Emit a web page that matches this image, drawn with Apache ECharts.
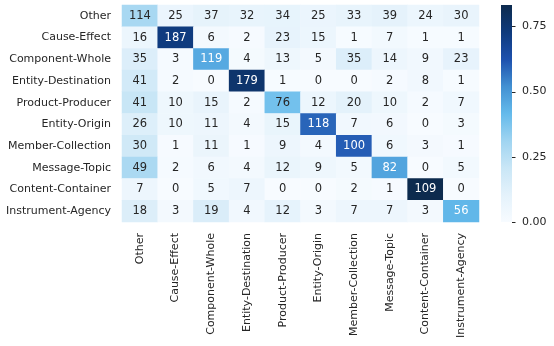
<!DOCTYPE html>
<html>
<head>
<meta charset="utf-8">
<script src="https://cdn.jsdelivr.net/npm/echarts@6/dist/echarts.min.js"></script>
<style>
  html, body { margin: 0; padding: 0; background: #ffffff; }
  #chart { width: 554px; height: 346px; }
</style>
</head>
<body>
<div id="chart"></div>
<script>
// Relation classes (rows = true label, columns = predicted label)
const labels = [
  'Other', 'Cause-Effect', 'Component-Whole', 'Entity-Destination',
  'Product-Producer', 'Entity-Origin', 'Member-Collection', 'Message-Topic',
  'Content-Container', 'Instrument-Agency'
];

// Confusion counts, one array per true class
const rowOther             = [114, 25, 37, 32, 34, 25, 33, 39, 24, 30];
const rowCauseEffect       = [16, 187, 6, 2, 23, 15, 1, 7, 1, 1];
const rowComponentWhole    = [35, 3, 119, 4, 13, 5, 35, 14, 9, 23];
const rowEntityDestination = [41, 2, 0, 179, 1, 0, 0, 2, 8, 1];
const rowProductProducer   = [41, 10, 15, 2, 76, 12, 20, 10, 2, 7];
const rowEntityOrigin      = [26, 10, 11, 4, 15, 118, 7, 6, 0, 3];
const rowMemberCollection  = [30, 1, 11, 1, 9, 4, 100, 6, 3, 1];
const rowMessageTopic      = [49, 2, 6, 4, 12, 9, 5, 82, 0, 5];
const rowContentContainer  = [7, 0, 5, 7, 0, 0, 2, 1, 109, 0];
const rowInstrumentAgency  = [18, 3, 19, 4, 12, 3, 7, 7, 3, 56];

const countRows = [
  rowOther, rowCauseEffect, rowComponentWhole, rowEntityDestination,
  rowProductProducer, rowEntityOrigin, rowMemberCollection, rowMessageTopic,
  rowContentContainer, rowInstrumentAgency
];

// Colour bar ticks
const colorbarTicks = [0, 0.25, 0.5, 0.75];

// Colour scale stops (evenly spaced from 0 to the largest row share)
const blues = ['#f7fbff', '#e4f2fb', '#c9e6f6', '#9fd4f1', '#64baeb',
               '#4290d2', '#1d50ad', '#0e3a7c', '#0d2b4e'];

// Each cell is coloured by its share of the row total
const cells = [];
let vmax = 0;
countRows.forEach((row, r) => {
  const total = row.reduce((a, b) => a + b, 0);
  row.forEach((count, c) => {
    const share = count / total;
    vmax = Math.max(vmax, share);
    cells.push({ value: [c, r, share, count] });
  });
});
cells.forEach(d => {
  d.label = { color: d.value[2] > 0.4 ? '#ffffff' : '#262626' };
});

const font = 'DejaVu Sans';
const ink = '#262626';
const chart = echarts.init(document.getElementById('chart'), null, { renderer: 'canvas' });

// Colour bar: a gradient rectangle spanning 0..vmax on the bar's own axis
function renderColorbar(params, api) {
  const bottom = api.coord([0, 0]);
  const top = api.coord([0, vmax]);
  const cs = params.coordSys;
  const stops = blues.map((c, i) => ({ offset: i / (blues.length - 1), color: c }));
  return {
    type: 'rect',
    shape: { x: cs.x, y: top[1], width: cs.width, height: bottom[1] - top[1] },
    style: { fill: new echarts.graphic.LinearGradient(0, 1, 0, 0, stops) }
  };
}

// Tick marks beside the colour bar
function renderTicks(params, api) {
  const cs = params.coordSys;
  const p = api.coord([0, api.value(0)]);
  const y = Math.round(p[1]) + 0.5;
  return {
    type: 'line',
    shape: { x1: cs.x + cs.width, y1: y, x2: cs.x + cs.width + 3.5, y2: y },
    style: { stroke: ink, lineWidth: 1 }
  };
}

chart.setOption({
  backgroundColor: '#ffffff',
  animation: false,
  textStyle: { fontFamily: font },
  grid: [
    { left: 122, top: 5, width: 357, height: 217 },
    { left: 501, top: 5, width: 11, height: 217 }
  ],
  xAxis: [
    {
      type: 'category', data: labels, gridIndex: 0, position: 'bottom',
      axisLine: { show: false }, axisTick: { show: false }, splitLine: { show: false },
      axisLabel: { rotate: 90, margin: 11, color: ink, fontSize: 11, fontFamily: font, interval: 0 }
    },
    {
      type: 'value', gridIndex: 1, show: false, min: 0, max: 1
    }
  ],
  yAxis: [
    {
      type: 'category', data: labels, gridIndex: 0, inverse: true,
      axisLine: { show: false }, axisTick: { show: false }, splitLine: { show: false },
      axisLabel: { margin: 11, color: ink, fontSize: 11, fontFamily: font, interval: 0 }
    },
    {
      type: 'value', gridIndex: 1, position: 'right', min: 0, max: vmax,
      axisLine: { show: false },
      splitLine: { show: false },
      axisTick: { show: false },
      axisLabel: { margin: 10, color: ink, fontSize: 11, fontFamily: font,
                   customValues: colorbarTicks,
                   formatter: v => v.toFixed(2) }
    }
  ],
  visualMap: {
    type: 'continuous',
    show: false,
    seriesIndex: 0,
    dimension: 2,
    min: 0,
    max: vmax,
    inRange: { color: blues }
  },
  series: [
    {
      type: 'heatmap',
      xAxisIndex: 0,
      yAxisIndex: 0,
      data: cells,
      label: {
        show: true,
        fontSize: 11.5,
        fontFamily: font,
        formatter: p => String(p.value[3])
      },
      emphasis: { disabled: true }
    },
    {
      type: 'custom',
      xAxisIndex: 1,
      yAxisIndex: 1,
      data: [[0, vmax]],
      renderItem: renderColorbar,
      silent: true
    },
    {
      type: 'custom',
      xAxisIndex: 1,
      yAxisIndex: 1,
      data: colorbarTicks.map(v => [v]),
      encode: { y: 0 },
      renderItem: renderTicks,
      clip: false,
      silent: true
    }
  ]
});
</script>
</body>
</html>
